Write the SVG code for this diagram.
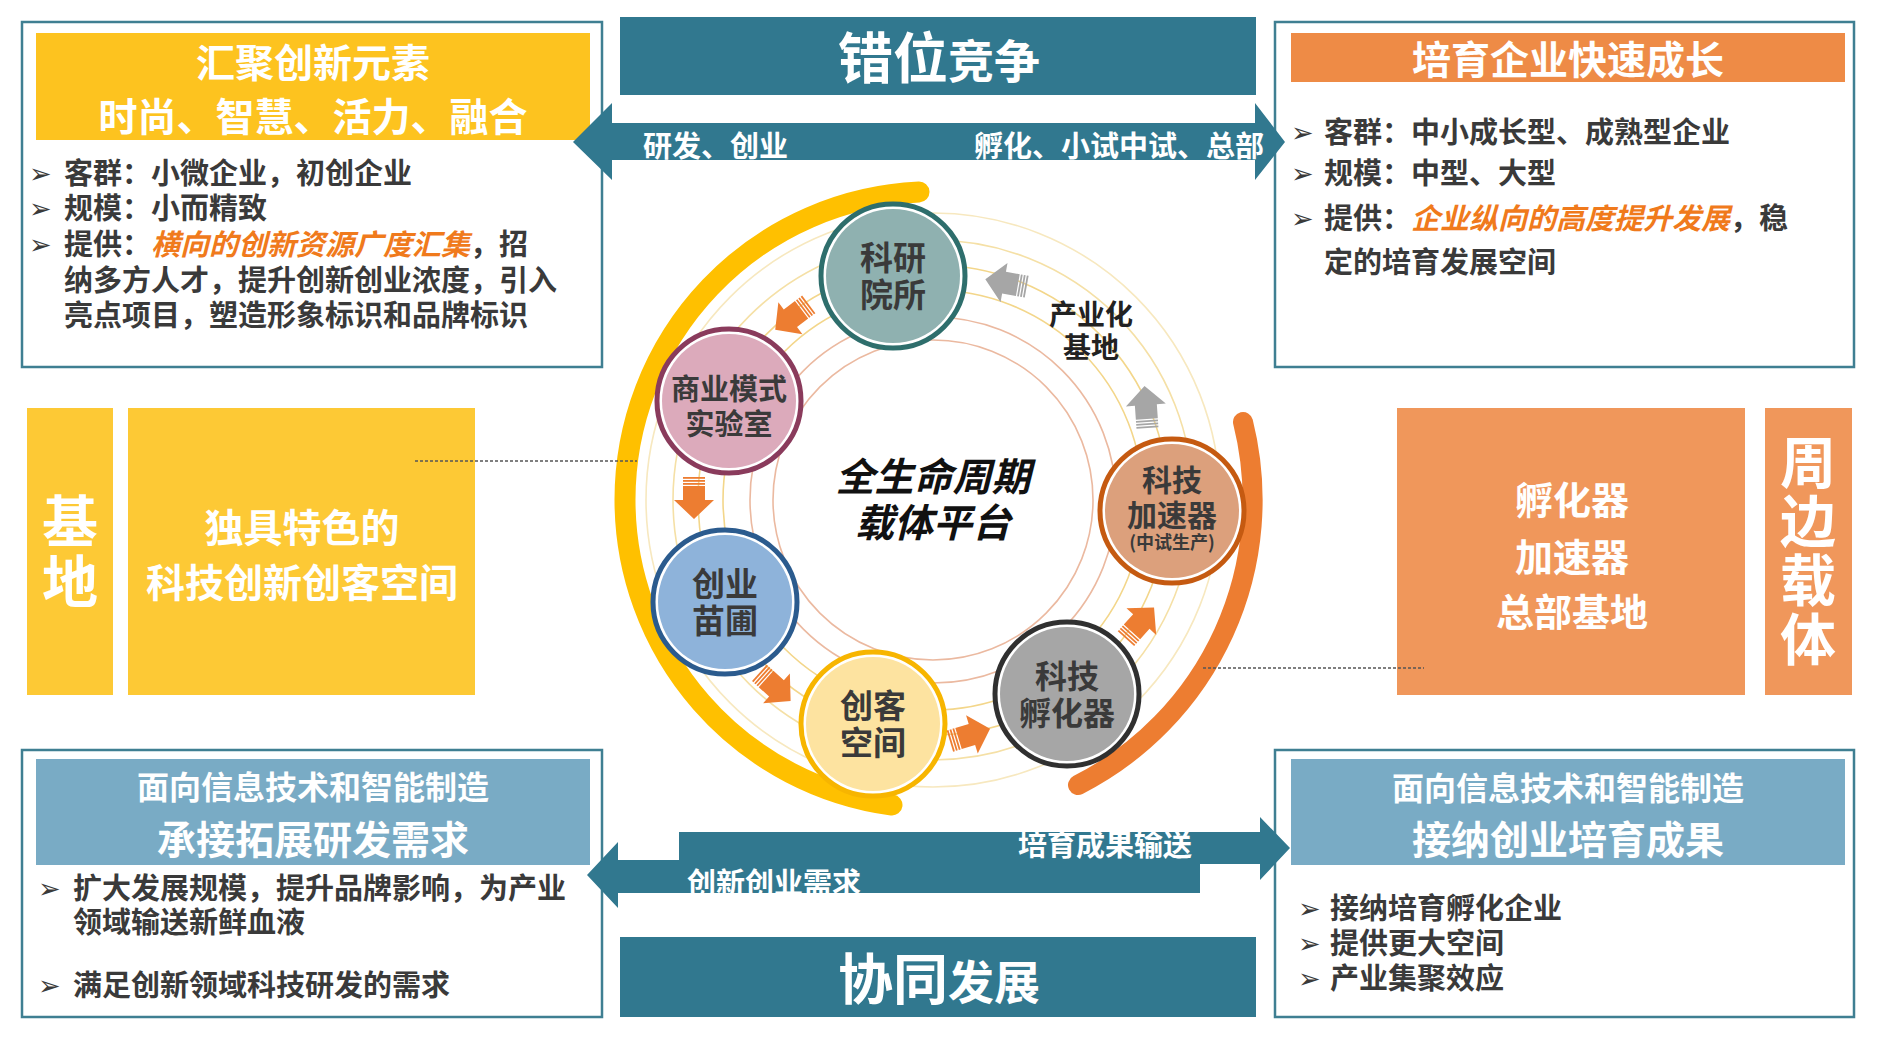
<svg xmlns="http://www.w3.org/2000/svg" width="1900" height="1046" viewBox="0 0 1900 1046">
<style>
.t{font-family:"Noto Sans CJK SC","Noto Sans CJK JP","Liberation Sans",sans-serif;font-weight:700}
.w{fill:#ffffff}
.d{fill:#3a3a3a}
.em{fill:#f07a1c;font-style:italic}
.bul{font-family:"DejaVu Sans",sans-serif;fill:#3a3a3a;font-size:27px}
.box{fill:#ffffff;stroke:#3f7f92;stroke-width:2.5}
.teal{fill:#31788f}
.ring{fill:none;stroke-width:1.6}
.b29{font-size:29px}
.nt{fill:#3a3a3a;text-anchor:middle}
.orr{fill:#ed7d31}
.gra{fill:#a6a6a6}
.dash{stroke:#555;stroke-width:1.3;stroke-dasharray:3 2;fill:none}
.vt{writing-mode:vertical-rl;text-anchor:middle}
</style>
<defs>
<g id="blk">
<rect x="-21" y="-11" width="1.8" height="22"/>
<rect x="-18" y="-11" width="1.8" height="22"/>
<rect x="-15" y="-11" width="1.8" height="22"/>
<path d="M-12,-11 H2 V-20 L21,0 L2,20 V11 H-12 Z"/>
</g>
</defs>

<g id="box-top-left">
<rect class="box" x="22" y="22" width="580" height="345"/>
<rect x="36" y="33" width="554" height="107" fill="#fdc31f"/>
<text class="t w" font-size="39" text-anchor="middle"><tspan x="313" y="77">汇聚创新元素</tspan><tspan x="313" y="131">时尚、智慧、活力、融合</tspan></text>
<text class="bul"><tspan x="29" y="183">➢</tspan><tspan x="29" y="218">➢</tspan><tspan x="29" y="254">➢</tspan></text>
<text class="t d b29"><tspan x="64" y="184">客群：小微企业，初创企业</tspan><tspan x="64" y="219">规模：小而精致</tspan><tspan x="64" y="255">提供：</tspan><tspan class="em">横向的创新资源广度汇集</tspan><tspan>，招</tspan><tspan x="64" y="291">纳多方人才，提升创新创业浓度，引入</tspan><tspan x="64" y="326">亮点项目，塑造形象标识和品牌标识</tspan></text>
</g>

<g id="banner-top">
<rect class="teal" x="620" y="17" width="636" height="78"/>
<text class="t w" x="939" y="78" text-anchor="middle"><tspan font-size="55">错位</tspan><tspan font-size="46">竞争</tspan></text>
</g>

<g id="box-top-right">
<rect class="box" x="1275" y="22" width="579" height="345"/>
<rect x="1291" y="33" width="554" height="49" fill="#ee8b46"/>
<text class="t w" x="1568" y="74" font-size="39" text-anchor="middle">培育企业快速成长</text>
<text class="bul"><tspan x="1291" y="142">➢</tspan><tspan x="1291" y="183">➢</tspan><tspan x="1291" y="228">➢</tspan></text>
<text class="t d b29"><tspan x="1324" y="143">客群：中小成长型、成熟型企业</tspan><tspan x="1324" y="184">规模：中型、大型</tspan><tspan x="1324" y="229">提供：</tspan><tspan class="em">企业纵向的高度提升发展</tspan><tspan>，稳</tspan><tspan x="1324" y="273">定的培育发展空间</tspan></text>
</g>

<g id="base-left">
<rect x="27" y="408" width="86" height="287" fill="#fdc935"/>
<rect x="128" y="408" width="347" height="287" fill="#fdc935"/>
<text class="t w vt" x="70" y="553" font-size="56" letter-spacing="4">基地</text>
<text class="t w" font-size="39" text-anchor="middle"><tspan x="302" y="542">独具特色的</tspan><tspan x="302" y="597">科技创新创客空间</tspan></text>
</g>

<g id="carrier-right">
<rect x="1397" y="408" width="348" height="287" fill="#f0975b"/>
<rect x="1765" y="408" width="87" height="287" fill="#f0975b"/>
<text class="t w" font-size="38" text-anchor="middle"><tspan x="1572" y="514">孵化器</tspan><tspan x="1572" y="571">加速器</tspan><tspan x="1572" y="626">总部基地</tspan></text>
<text class="t w vt" x="1808" y="552" font-size="56" letter-spacing="3">周边载体</text>
</g>

<g id="box-bottom-left">
<rect class="box" x="22" y="750" width="580" height="267"/>
<rect x="36" y="759" width="554" height="106" fill="#79abc5"/>
<text class="t w" text-anchor="middle"><tspan x="313" y="799" font-size="32">面向信息技术和智能制造</tspan><tspan x="313" y="854" font-size="39">承接拓展研发需求</tspan></text>
<text class="bul"><tspan x="38" y="898">➢</tspan><tspan x="38" y="995">➢</tspan></text>
<text class="t d b29"><tspan x="73" y="899">扩大发展规模，提升品牌影响，为产业</tspan><tspan x="73" y="933">领域输送新鲜血液</tspan><tspan x="73" y="996">满足创新领域科技研发的需求</tspan></text>
</g>

<g id="box-bottom-right">
<rect class="box" x="1275" y="750" width="579" height="267"/>
<rect x="1291" y="759" width="554" height="106" fill="#79abc5"/>
<text class="t w" text-anchor="middle"><tspan x="1568" y="800" font-size="32">面向信息技术和智能制造</tspan><tspan x="1568" y="854" font-size="39">接纳创业培育成果</tspan></text>
<text class="bul"><tspan x="1298" y="918">➢</tspan><tspan x="1298" y="953">➢</tspan><tspan x="1298" y="988">➢</tspan></text>
<text class="t d b29"><tspan x="1330" y="919">接纳培育孵化企业</tspan><tspan x="1330" y="954">提供更大空间</tspan><tspan x="1330" y="989">产业集聚效应</tspan></text>
</g>

<g id="banner-bottom">
<rect class="teal" x="620" y="937" width="636" height="80"/>
<text class="t w" x="939" y="999" text-anchor="middle"><tspan font-size="55">协同</tspan><tspan font-size="46">发展</tspan></text>
</g>

<g id="rings">
<circle class="ring" cx="933" cy="500" r="160" stroke="#ebb9a0"/>
<circle class="ring" cx="933" cy="500" r="183" stroke="#ebb9a0"/>
<circle class="ring" cx="933" cy="500" r="210" stroke="#f3d68a"/>
<circle class="ring" cx="933" cy="500" r="235" stroke="#f3d68a"/>
<circle class="ring" cx="933" cy="500" r="260" stroke="#f5e0a6"/>
<circle class="ring" cx="933" cy="500" r="287" stroke="#f7e8bf"/>
</g>

<g id="bands">
<path d="M919,192 A308,308 0 0 0 625,500 A308,308 0 0 0 892,805" fill="none" stroke="#ffc000" stroke-width="21" stroke-linecap="round"/>
<path d="M1243,422 A320,320 0 0 1 1078,785" fill="none" stroke="#ed7d31" stroke-width="20" stroke-linecap="round"/>
</g>

<g id="connectors">
<path class="teal" d="M573,142 L612,103 V123 H1255 V103 L1285,142 L1255,180 V160 H612 V180 Z"/>
<path class="teal" d="M679,832 H1260 V817 L1290,848 L1260,880 V864 H679 Z"/>
<path class="teal" d="M1200,860 V893 H618 V908 L587,875 L618,842 V860 Z"/>
<path class="dash" d="M415,461 H637"/>
<path class="dash" d="M1203,668 H1424"/>
<use href="#blk" class="orr" transform="translate(792,317) rotate(143)"/>
<use href="#blk" class="orr" transform="translate(694,498) rotate(90)"/>
<use href="#blk" class="orr" transform="translate(775,687) rotate(42)"/>
<use href="#blk" class="orr" transform="translate(970,735) rotate(-17)"/>
<use href="#blk" class="orr" transform="translate(1140,623) rotate(-48)"/>
<use href="#blk" class="gra" transform="translate(1146,407) rotate(-94)"/>
<use href="#blk" class="gra" transform="translate(1006,283) rotate(190)"/>
<text class="t w b29" x="643" y="157">研发、创业</text>
<text class="t w b29" x="1264" y="157" text-anchor="end">孵化、小试中试、总部</text>
<text class="t w b29" x="1018" y="856">培育成果输送</text>
<text class="t w b29" x="687" y="894">创新创业需求</text>
</g>

<g id="node-keyan">
<circle cx="893" cy="276" r="72" fill="#fff" stroke="#2e6e6c" stroke-width="5"/>
<circle cx="893" cy="276" r="67" fill="#8fb1b0"/>
<text class="t nt" font-size="33"><tspan x="893" y="270">科研</tspan><tspan x="893" y="307">院所</tspan></text>
</g>
<g id="node-shangye">
<circle cx="729" cy="401" r="72" fill="#fff" stroke="#8a3b5c" stroke-width="5"/>
<circle cx="729" cy="401" r="67" fill="#dcaabb"/>
<text class="t nt" font-size="29"><tspan x="729" y="400">商业模式</tspan><tspan x="729" y="435">实验室</tspan></text>
</g>
<g id="node-chuangye">
<circle cx="725" cy="602" r="72" fill="#fff" stroke="#2b5b8e" stroke-width="5"/>
<circle cx="725" cy="602" r="67" fill="#8eb3da"/>
<text class="t nt" font-size="33"><tspan x="725" y="596">创业</tspan><tspan x="725" y="633">苗圃</tspan></text>
</g>
<g id="node-chuangke">
<circle cx="873" cy="724" r="72" fill="#fff" stroke="#f7b500" stroke-width="5"/>
<circle cx="873" cy="724" r="67" fill="#fde3a0"/>
<text class="t nt" font-size="33"><tspan x="873" y="718">创客</tspan><tspan x="873" y="755">空间</tspan></text>
</g>
<g id="node-fuhua">
<circle cx="1067" cy="694" r="72" fill="#fff" stroke="#303030" stroke-width="5"/>
<circle cx="1067" cy="694" r="67" fill="#a6a6a6"/>
<text class="t nt" font-size="32"><tspan x="1067" y="688">科技</tspan><tspan x="1067" y="725">孵化器</tspan></text>
</g>
<g id="node-jiasu">
<circle cx="1172" cy="511" r="72" fill="#fff" stroke="#c55a11" stroke-width="5"/>
<circle cx="1172" cy="511" r="67" fill="#dca07c"/>
<text class="t nt"><tspan x="1172" y="491" font-size="30">科技</tspan><tspan x="1172" y="526" font-size="30">加速器</tspan><tspan x="1172" y="549" font-size="18">(中试生产)</tspan></text>
</g>
<g id="center-label">
<text class="t" font-size="39" font-style="italic" fill="#111" text-anchor="middle"><tspan x="933" y="491">全生命周期</tspan><tspan x="933" y="537">载体平台</tspan></text>
</g>
<g id="industrial-base">
<text class="t" font-size="28" fill="#222" text-anchor="middle"><tspan x="1091" y="325">产业化</tspan><tspan x="1091" y="358">基地</tspan></text>
</g>
</svg>
